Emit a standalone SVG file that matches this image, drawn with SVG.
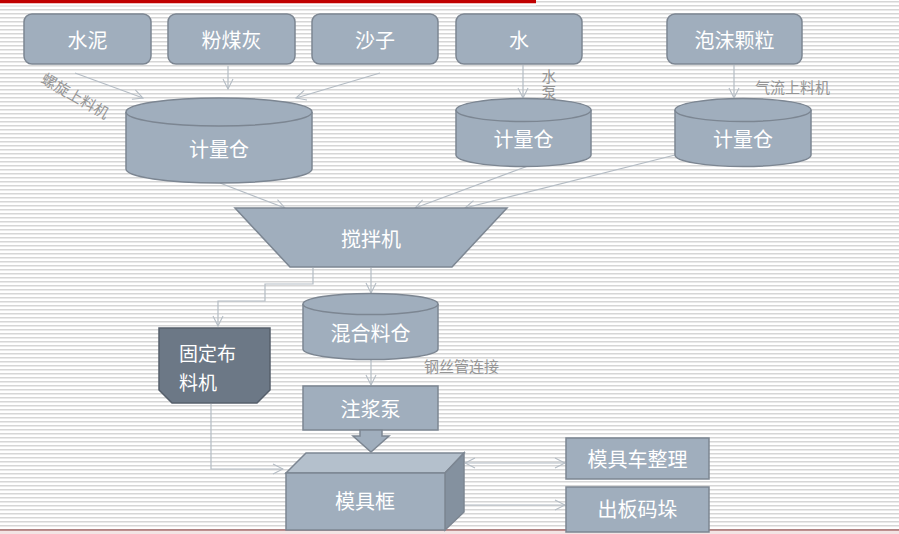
<svg xmlns="http://www.w3.org/2000/svg" width="899" height="534" viewBox="0 0 899 534">
<defs>
<pattern id="stripes" width="8" height="4" patternUnits="userSpaceOnUse">
<rect width="8" height="4" fill="#ffffff"/>
<rect y="1" width="8" height="1.5" fill="#d6d6d6"/>
</pattern>
<marker id="arr" viewBox="0 0 12 12" refX="11" refY="6" markerWidth="12" markerHeight="12" markerUnits="userSpaceOnUse" orient="auto-start-reverse">
<path d="M1,1 L11,6 L1,11" fill="none" stroke="#b4bcc4" stroke-width="1.1"/>
</marker>
<style>
.box{fill:#a0aebd;stroke:#7c8692;stroke-width:1.5}
.dark{fill:#6c7886;stroke:#555f6b;stroke-width:1.5}
.t{font-family:"Noto Sans CJK SC","Noto Sans",sans-serif;font-size:20px;fill:#ffffff;text-anchor:middle;dominant-baseline:central}
.lbl{font-family:"Noto Sans CJK SC","Noto Sans",sans-serif;font-size:15px;fill:#959595}
.ln{fill:none;stroke:#b4bcc4;stroke-width:1.2}
</style>
</defs>
<rect width="899" height="534" fill="url(#stripes)"/>
<rect x="0" y="0" width="536" height="3.5" fill="#c00000"/>
<rect x="0" y="3.5" width="536" height="2" fill="#ffffff"/>
<rect x="0" y="529.5" width="899" height="1.2" fill="#8a3434"/>
<rect x="0" y="530.7" width="899" height="3.3" fill="#f3e4e4"/>

<g id="connectors">
<line class="ln" x1="75" y1="73" x2="143" y2="98" marker-end="url(#arr)"/>
<line class="ln" x1="228" y1="66" x2="228" y2="89" marker-end="url(#arr)"/>
<line class="ln" x1="380" y1="73" x2="296" y2="98" marker-end="url(#arr)"/>
<line class="ln" x1="523" y1="65" x2="523" y2="98" marker-end="url(#arr)"/>
<line class="ln" x1="734" y1="65" x2="734" y2="98" marker-end="url(#arr)"/>
<line class="ln" x1="220" y1="183" x2="285" y2="208" marker-end="url(#arr)"/>
<line class="ln" x1="528" y1="166" x2="415" y2="208" marker-end="url(#arr)"/>
<line class="ln" x1="675" y1="155" x2="465" y2="208" marker-end="url(#arr)"/>
<line class="ln" x1="371" y1="268" x2="371" y2="293" marker-end="url(#arr)"/>
<polyline class="ln" points="313,268 313,284 265,284 265,301 218,301 218,326" marker-end="url(#arr)"/>
<line class="ln" x1="371" y1="360" x2="371" y2="385" marker-end="url(#arr)"/>
<polyline class="ln" points="211,404 211,469 283,469" marker-end="url(#arr)"/>
<line class="ln" x1="465" y1="463" x2="565" y2="463" marker-start="url(#arr)" marker-end="url(#arr)"/>
<line class="ln" x1="446" y1="505" x2="565" y2="505" marker-end="url(#arr)"/>
<text class="lbl" transform="translate(40,82) rotate(30)">螺旋上料机</text>
<text class="lbl" x="549" y="69" style="writing-mode:vertical-rl;letter-spacing:1px">水泵</text>
<text class="lbl" x="755" y="93">气流上料机</text>
<text class="lbl" x="424" y="372">钢丝管连接</text>
</g>

<g id="n-shuini"><rect class="box" x="24" y="14" width="127" height="50" rx="8"/><text class="t" x="87.5" y="39">水泥</text></g>
<g id="n-fenmeihui"><rect class="box" x="168" y="14" width="127" height="50" rx="8"/><text class="t" x="231.5" y="39">粉煤灰</text></g>
<g id="n-shazi"><rect class="box" x="312" y="14" width="126" height="50" rx="8"/><text class="t" x="375" y="39">沙子</text></g>
<g id="n-shui"><rect class="box" x="456" y="14" width="126" height="50" rx="8"/><text class="t" x="519" y="39">水</text></g>
<g id="n-paomo"><rect class="box" x="667" y="14" width="135" height="50" rx="8"/><text class="t" x="734.5" y="39">泡沫颗粒</text></g>

<g id="n-bin1">
<path class="box" d="M126,112 L126,169 A93,14 0 0 0 312,169 L312,112"/>
<ellipse class="box" cx="219" cy="112" rx="93" ry="14"/>
<text class="t" x="219" y="148">计量仓</text>
</g>
<g id="n-bin2">
<path class="box" d="M456,110 L456,155 A67.5,11.5 0 0 0 591,155 L591,110"/>
<ellipse class="box" cx="523.5" cy="110" rx="67.5" ry="11.5"/>
<text class="t" x="523.5" y="138">计量仓</text>
</g>
<g id="n-bin3">
<path class="box" d="M675,110 L675,155 A68,11.5 0 0 0 811,155 L811,110"/>
<ellipse class="box" cx="743" cy="110" rx="68" ry="11.5"/>
<text class="t" x="743" y="138">计量仓</text>
</g>

<g id="n-mixer">
<polygon class="box" points="235,208 507,208 452,267 290,267"/>
<text class="t" x="371" y="238">搅拌机</text>
</g>

<g id="n-hunheliao">
<path class="box" d="M303,304 L303,349 A67.5,10.5 0 0 0 438,349 L438,304"/>
<ellipse class="box" cx="370.5" cy="304" rx="67.5" ry="10.5"/>
<text class="t" x="370.5" y="332">混合料仓</text>
</g>

<g id="n-bulaoji">
<polygon class="dark" points="159,328 270,328 270,390 257,403 172,403 159,390"/>
<text class="t" x="179" y="352" style="text-anchor:start;font-size:19px">固定布</text>
<text class="t" x="179" y="381" style="text-anchor:start;font-size:19px">料机</text>
</g>

<g id="n-zhujiangbeng">
<rect class="box" x="303" y="386" width="135" height="44"/>
<text class="t" x="370.5" y="408">注浆泵</text>
<polygon class="box" points="360,430 382,430 382,436 389,436 371,452 353,436 360,436"/>
</g>

<g id="n-mojukuang">
<polygon fill="#b4c0cc" stroke="#7c8692" stroke-width="1.5" points="286,473 306,453 464,453 445,473"/>
<polygon fill="#84919f" stroke="#7c8692" stroke-width="1.5" points="445,473 464,453 464,512 445,530"/>
<rect class="box" x="286" y="473" width="159" height="57"/>
<text class="t" x="365" y="500">模具框</text>
</g>

<g id="n-mojuche"><rect class="box" x="566" y="438" width="143" height="41"/><text class="t" x="637.5" y="458.5">模具车整理</text></g>
<g id="n-chuban"><rect class="box" x="566" y="487" width="143" height="45"/><text class="t" x="637.5" y="508">出板码垛</text></g>
</svg>
